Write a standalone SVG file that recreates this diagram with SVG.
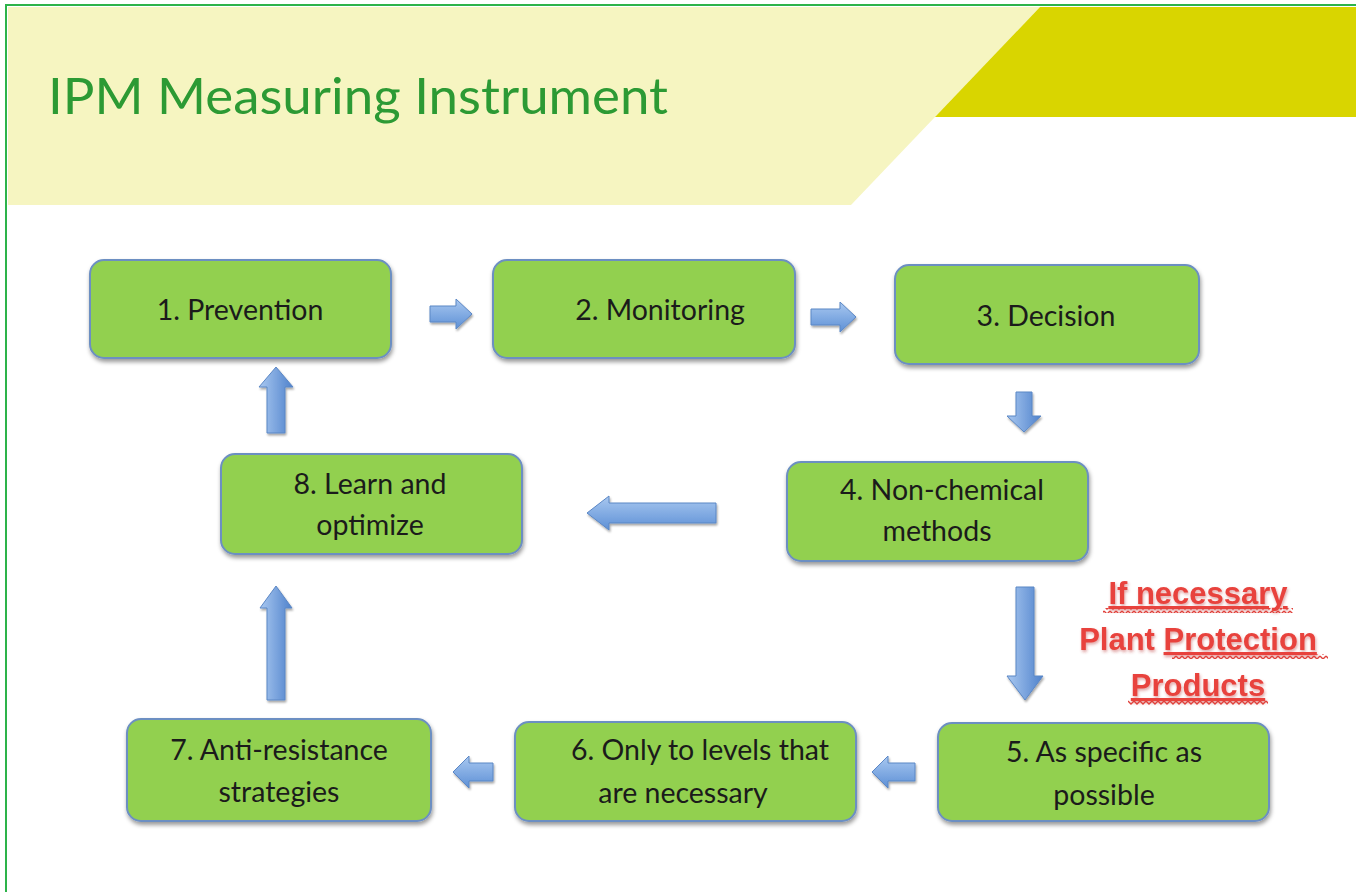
<svg xmlns="http://www.w3.org/2000/svg" width="1356" height="892" viewBox="0 0 1356 892">
<style>
.node rect{fill:#92d050;stroke:#6c8fc2;stroke-width:2;filter:url(#sh)}
.node text{font-family:"Lato","Liberation Sans",sans-serif;font-size:28.5px;fill:#1b1b1b;text-anchor:middle}
.arr{fill:url(#ag);stroke:#5b87c5;stroke-width:1;filter:url(#ash)}
.arrv{fill:url(#agv);stroke:#5b87c5;stroke-width:1;filter:url(#ash)}
.red{font-family:"Liberation Sans","Lato",sans-serif;font-weight:bold;font-size:31px;fill:#e8423c;text-anchor:middle;filter:url(#glow)}
</style>
<defs>
<filter id="sh" x="-10%" y="-10%" width="120%" height="130%"><feDropShadow dx="1" dy="3" stdDeviation="2" flood-color="#000" flood-opacity="0.4"/></filter>
<filter id="ash" x="-20%" y="-20%" width="140%" height="140%"><feDropShadow dx="1" dy="2" stdDeviation="1.2" flood-color="#000" flood-opacity="0.35"/></filter>
<filter id="glow" x="-10%" y="-30%" width="120%" height="160%"><feDropShadow dx="1" dy="2" stdDeviation="1.5" flood-color="#b33" flood-opacity="0.45"/></filter>
<linearGradient id="ag" x1="0" y1="0" x2="0" y2="1"><stop offset="0" stop-color="#a9c8f0"/><stop offset="1" stop-color="#5d90d6"/></linearGradient>
<linearGradient id="agv" x1="0" y1="0" x2="1" y2="0"><stop offset="0" stop-color="#a9c8f0"/><stop offset="1" stop-color="#4f82cc"/></linearGradient>
<pattern id="wave" width="6" height="5" patternUnits="userSpaceOnUse"><path d="M0 1 L3 4 L6 1" fill="none" stroke="#e0413b" stroke-width="1.3"/></pattern>
</defs>
<rect width="1356" height="892" fill="#fff"/>
<polygon points="8,7 1040,7 851,205 8,205" fill="#f6f5c1"/>
<polygon points="1040,7 1356,7 1356,117 935,117" fill="#d9d500"/>
<line x1="5" y1="5" x2="1356" y2="5" stroke="#2db34a" stroke-width="2"/>
<line x1="6" y1="5" x2="6" y2="892" stroke="#2db34a" stroke-width="2"/>
<text x="48" y="114" font-family="Lato,'Liberation Sans',sans-serif" font-size="50" fill="#2c9a34" textLength="620" lengthAdjust="spacingAndGlyphs">IPM Measuring Instrument</text>

<g id="connectors">
<polygon class="arr" points="430,306 456,306 456,299 472,314 456,329 456,322 430,322"/>
<polygon class="arr" points="811,309 840,309 840,302 856,317 840,332 840,325 811,325"/>
<polygon class="arrv" points="1016,392 1032,392 1032,416 1041,416 1024,432 1007,416 1016,416"/>
<polygon class="arr" points="716,503 609,503 609,496 587,513 609,530 609,523 716,523"/>
<polygon class="arrv" points="1016,587 1034,587 1034,676 1043,676 1025,700 1007,676 1016,676"/>
<polygon class="arr" points="915,763 888,763 888,756 872,772 888,788 888,781 915,781"/>
<polygon class="arr" points="493,763 469,763 469,756 453,772 469,788 469,781 493,781"/>
<polygon class="arrv" points="267,700 285,700 285,608 292,608 276,586 260,608 267,608"/>
<polygon class="arrv" points="267,433 285,433 285,387 293,387 276,367 259,387 267,387"/>
</g>

<g id="n1" class="node"><rect x="90" y="260" width="301" height="98" rx="14"/><text x="240" y="320">1. Prevention</text></g>
<g id="n2" class="node"><rect x="493" y="260" width="302" height="98" rx="14"/><text x="660" y="320">2. Monitoring</text></g>
<g id="n3" class="node"><rect x="895" y="265" width="304" height="99" rx="14"/><text x="1046" y="326">3. Decision</text></g>
<g id="n4" class="node"><rect x="787" y="462" width="301" height="99" rx="14"/><text x="942" y="500">4. Non-chemical</text><text x="937" y="541">methods</text></g>
<g id="n5" class="node"><rect x="938" y="723" width="331" height="98" rx="14"/><text x="1104" y="762">5. As specific as</text><text x="1104" y="805">possible</text></g>
<g id="n6" class="node"><rect x="515" y="722" width="341" height="99" rx="14"/><text x="700" y="760">6. Only to levels that</text><text x="683" y="803">are necessary</text></g>
<g id="n7" class="node"><rect x="127" y="719" width="304" height="102" rx="14"/><text x="279" y="760">7. Anti-resistance</text><text x="279" y="802">strategies</text></g>
<g id="n8" class="node"><rect x="221" y="454" width="301" height="100" rx="14"/><text x="370" y="494">8. Learn and</text><text x="370" y="535">optimize</text></g>

<g id="note">
<text class="red" x="1198" y="604" text-decoration="underline">If necessary</text>
<text class="red" x="1198" y="650"><tspan>Plant </tspan><tspan text-decoration="underline">Protection</tspan></text>
<text class="red" x="1198" y="696" text-decoration="underline">Products</text>
<rect x="1103" y="608" width="190" height="5" fill="url(#wave)"/>
<rect x="1172" y="654" width="156" height="5" fill="url(#wave)"/>
<rect x="1128" y="700" width="140" height="5" fill="url(#wave)"/>
</g>
</svg>
